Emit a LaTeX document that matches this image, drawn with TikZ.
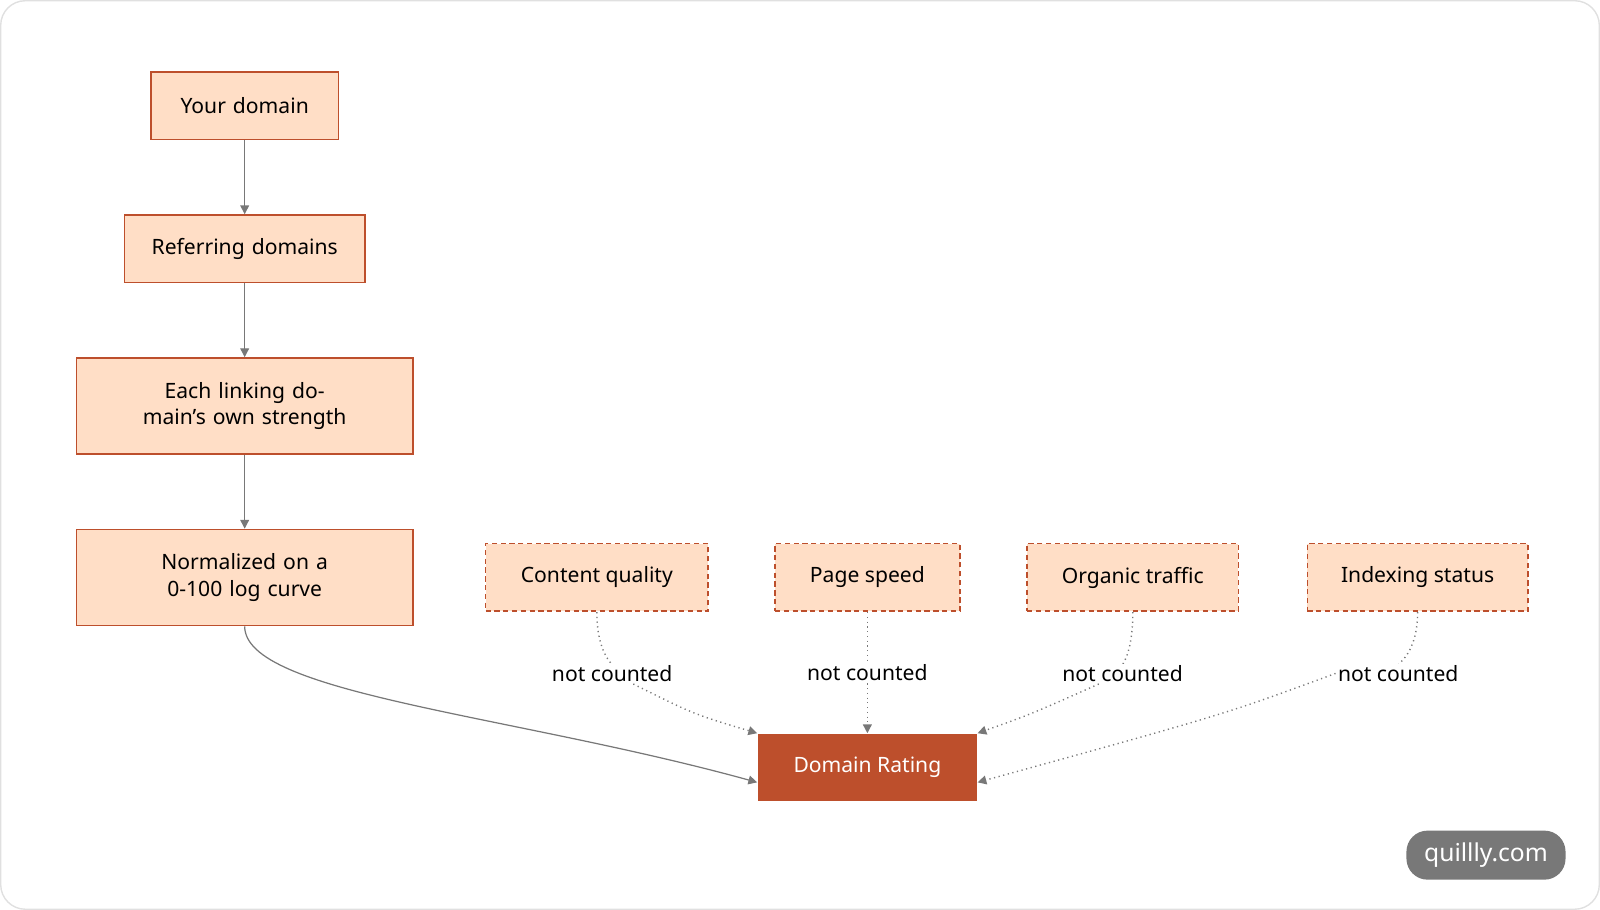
\documentclass[tikz,border=0pt]{standalone}
\usepackage{fontspec}
\setmainfont{Noto Sans}
\usetikzlibrary{arrows.meta}
\definecolor{peach}{HTML}{FFDEC6}
\definecolor{rust}{HTML}{BD4F2C}
\definecolor{edge}{HTML}{787878}
\begin{document}
\begin{tikzpicture}[x=0.0204cm,y=-0.0204cm,font=\fontsize{12}{15}\selectfont]
        % Define styles
        \tikzset{
            step/.style={rectangle, draw=rust, fill=peach, line width=0.9pt, align=center, text width=#1*0.0204cm-12pt, minimum height=1.35cm},
            ignored/.style={rectangle, draw=rust, fill=peach, line width=0.9pt, dash pattern=on 3pt off 2pt, minimum width=#1*0.0204cm, minimum height=1.35cm},
            result/.style={rectangle, fill=rust, text=white, minimum width=4.39cm, minimum height=1.35cm},
            arrow/.style={-{Triangle[length=5pt,width=5pt]}, draw=edge, line width=0.7pt},
            skip/.style={arrow, dotted, line width=0.8pt},
            note/.style={fill=white, inner sep=1pt}
        }
        \path[use as bounding box, draw=black!12, line width=0.8pt, rounded corners=14pt] (1,1) rectangle (1567,891);

        % Nodes
        \node[step=193] (your_domain) at (240,104) {Your domain};
        \node[step=245] (referring) at (240,244) {Referring domains};
        \node[step=339, minimum height=1.92cm] (strength) at (240,398) {Each linking domain's own strength};
        \node[step=339, minimum height=1.92cm] (normalized) at (240,566) {Normalized on a 0-100 log curve};

        \node[ignored=218] (content) at (585,566) {Content quality};
        \node[ignored=181] (speed) at (850,566) {Page speed};
        \node[ignored=207] (traffic) at (1110,566) {Organic traffic};
        \node[ignored=216] (indexing) at (1389,566) {Indexing status};

        \node[result] (rating) at (850,752) {Domain Rating};

        % Arrows
        \draw[arrow] (your_domain) -- (referring);
        \draw[arrow] (referring) -- (strength);
        \draw[arrow] (strength) -- (normalized);
        \draw[arrow] (normalized.south) .. controls (240,680) and (500,700) .. ([yshift=-0.3cm]rating.west);

        \draw[skip] (content.south) .. controls (585,640) and (600,650) .. (600,660)
            node[note, pos=1] (nc_content) {not counted};
        \draw[skip] (nc_content) .. controls (680,700) .. (rating.north west);
        \draw[skip] (speed) -- node[note] (nc_speed) {not counted} (rating);
        \draw[skip] (traffic.south) .. controls (1110,640) and (1100,650) .. (1100,660)
            node[note, pos=1] (nc_traffic) {not counted};
        \draw[skip] (nc_traffic) .. controls (1010,700) .. (rating.north east);
        \draw[skip] (indexing.south) .. controls (1389,640) and (1370,650) .. (1370,660)
            node[note, pos=1] (nc_indexing) {not counted};
        \draw[skip] (nc_indexing.west) .. controls (1200,700) .. ([yshift=-0.3cm]rating.east);

        % Footnote
        \node[fill=edge, text=white, rounded corners=12pt, minimum width=3.18cm, minimum height=0.98cm, font=\fontsize{14}{16}\selectfont] (site) at (1456,838) {quillly.com};
    \end{tikzpicture}
\end{document}
